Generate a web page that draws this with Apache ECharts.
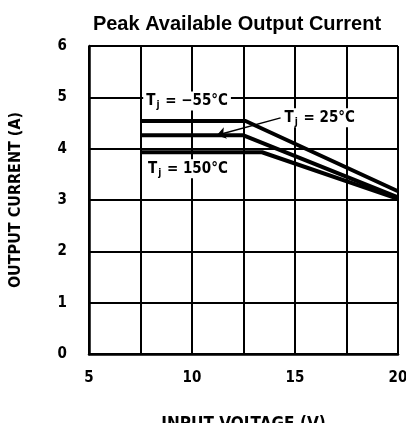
<!DOCTYPE html>
<html>
<head>
<meta charset="utf-8">
<script src="https://cdn.jsdelivr.net/npm/echarts@6/dist/echarts.min.js"></script>
<style>
  html, body { margin: 0; padding: 0; background: #fff; }
  #container { width: 406px; height: 423px; }
</style>
</head>
<body>
<div id="container"></div>
<script>
var xTicks = [5, 10, 15, 20];
var yTicks = [0, 1, 2, 3, 4, 5, 6];
// input voltage (V), output current (A)
var tjMinus55 = [[7.5, 4.54], [12.6, 4.54], [20, 3.17]];
var tj25 = [[7.5, 4.26], [12.5, 4.26], [20, 3.05]];
var tj150 = [[7.5, 3.93], [13.4, 3.93], [20, 3.02]];

var narrow = "'Liberation Sans Narrow', 'DejaVu Sans Condensed', sans-serif";

var dom = document.getElementById("container");
var myChart = echarts.init(dom);

function tjLabel(temp) {
    return '{a|T}{b|j}{a| = ' + temp + '°C}';
}
var tjRich = {
    a: { fontSize: 15, fontWeight: 'bold', fontFamily: narrow, color: '#000' },
    b: { fontSize: 10, fontWeight: 'bold', fontFamily: narrow, color: '#000', padding: [9, 1, 0, 1] }
};

function curve(name, data, markPointData) {
    return {
        name: name,
        type: 'line',
        data: data,
        symbol: 'none',
        lineStyle: { color: '#000', width: 4 },
        markPoint: {
            symbol: 'rect',
            symbolSize: 0,
            label: {
                show: true,
                position: 'inside',
                formatter: tjLabel(markPointData.temp),
                rich: tjRich,
                backgroundColor: '#fff',
                padding: [0, 3]
            },
            data: [{ coord: markPointData.at }]
        }
    };
}

var series = [
    curve('-55', tjMinus55, { temp: '−55', at: [9.76, 4.93] }),
    curve('25', tj25, { temp: '25', at: [16.2, 4.6] }),
    curve('150', tj150, { temp: '150', at: [9.8, 3.61] })
];
series[1].markLine = {
    silent: true,
    symbol: ['none', 'arrow'],
    symbolSize: 9,
    label: { show: false },
    lineStyle: { color: '#000', width: 1.5, type: 'solid' },
    data: [[{ coord: [14.3, 4.6] }, { coord: [11.2, 4.26] }]]
};

option = {
    backgroundColor: '#fff',
    animation: false,
    title: {
        text: 'Peak Available Output Current',
        left: 232,
        top: 9,
        textAlign: 'center',
        textStyle: { fontFamily: 'Liberation Sans, Arial, sans-serif', fontWeight: 'bold', fontSize: 20, color: '#000' }
    },
    grid: { left: 89, right: 8, top: 46, bottom: 69, outerBoundsMode: 'none', containLabel: false },
    xAxis: {
        type: 'value',
        min: xTicks[0],
        max: xTicks[xTicks.length - 1],
        interval: 2.5,
        name: 'INPUT VOLTAGE (V)',
        nameLocation: 'middle',
        nameGap: 62,
        nameTextStyle: { fontFamily: narrow, fontWeight: 'bold', fontSize: 17, color: '#000' },
        axisLine: { lineStyle: { color: '#000', width: 2.5 } },
        axisTick: { show: false },
        axisLabel: {
            margin: 17,
            fontFamily: narrow, fontWeight: 'bold', fontSize: 15, color: '#000',
            formatter: function (v) { return xTicks.indexOf(v) >= 0 ? String(v) : ''; }
        },
        splitLine: { lineStyle: { color: '#000', width: 2 } }
    },
    yAxis: {
        type: 'value',
        min: yTicks[0],
        max: yTicks[yTicks.length - 1],
        interval: 1,
        name: 'OUTPUT CURRENT (A)',
        nameLocation: 'middle',
        nameGap: 65,
        nameTextStyle: { fontFamily: narrow, fontWeight: 'bold', fontSize: 16, color: '#000' },
        axisLine: { show: true, lineStyle: { color: '#000', width: 2.5 } },
        axisTick: { show: false },
        axisLabel: { margin: 22, fontFamily: narrow, fontWeight: 'bold', fontSize: 15, color: '#000' },
        splitLine: { lineStyle: { color: '#000', width: 2 } }
    },
    series: series
};
myChart.setOption(option, true);
</script>
</body>
</html>
